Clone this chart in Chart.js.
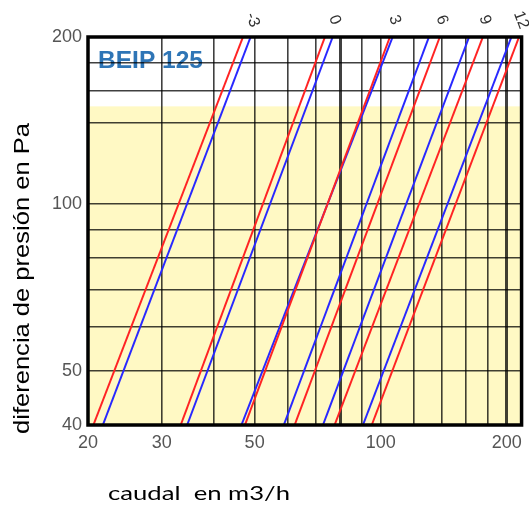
<!DOCTYPE html>
<html>
<head>
<meta charset="utf-8">
<title>BEIP 125</title>
<script src="https://cdn.jsdelivr.net/npm/chart.js@4.4.1/dist/chart.umd.min.js"></script>
<style>
  html, body { margin: 0; padding: 0; background: #fff; }
  canvas { display: block; }
</style>
</head>
<body>
<canvas id="chart" width="529" height="506"></canvas>
<script>
// Settings of the damper (labels along the top)
const settings = ['-3', '0', '3', '6', '9', '12'];

// Pressure range of each line, Pa
const pressure = [40, 200];

// Flow (m3/h) read at 40 Pa and at 200 Pa
const redFlow40 = [20.6, 33.3, 47.4, 62.3, 77.6, 95.2];
const redFlow200 = [46.9, 73.6, 105.2, 138.4, 175.4, 214];
const blueFlow40 = [21.7, 34.5, 46.5, 58.7, 72.8, 90.7];
const blueFlow200 = [48.9, 76.8, 106.8, 130.4, 162.6, 205.2];

// Grid and tick labels
const xGrid = [20, 30, 40, 50, 60, 70, 80, 90, 100, 120, 140, 160, 180, 200];
const xLabels = [20, 30, 50, 100, 200];
const xThick = [80, 200];
const yGrid = [40, 50, 60, 70, 80, 90, 100, 140, 160, 180, 200];
const yLabels = [40, 50, 100, 200];
const yellowTop = 150;

const RED = 'rgb(255,35,35)';
const BLUE = 'rgb(40,40,255)';

const datasets = [];
settings.forEach((s, i) => {
  datasets.push({
    label: s + ' red',
    data: [{ x: redFlow40[i], y: pressure[0] }, { x: redFlow200[i], y: pressure[1] }],
    borderColor: RED,
    borderWidth: 2,
    pointRadius: 0
  });
  datasets.push({
    label: s + ' blue',
    data: [{ x: blueFlow40[i], y: pressure[0] }, { x: blueFlow200[i], y: pressure[1] }],
    borderColor: BLUE,
    borderWidth: 2,
    pointRadius: 0
  });
});

// draw text stretched along its direction to a given length
function fitText(ctx, text, len) {
  const w = ctx.measureText(text).width;
  ctx.save();
  ctx.scale(len / w, 1);
  ctx.fillText(text, 0, 0);
  ctx.restore();
}

const backgroundPlugin = {
  id: 'background',
  beforeDraw(chart) {
    const { ctx, chartArea, scales } = chart;
    const yTop = scales.y.getPixelForValue(yellowTop);
    ctx.save();
    ctx.fillStyle = 'rgb(255,249,196)';
    ctx.fillRect(chartArea.left, yTop, chartArea.right - chartArea.left, chartArea.bottom - yTop);
    ctx.fillStyle = 'rgb(46,117,182)';
    ctx.font = 'bold 23px "Liberation Sans", Arial, sans-serif';
    ctx.textBaseline = 'alphabetic';
    ctx.translate(chartArea.left + 10, chartArea.top + 31);
    fitText(ctx, 'BEIP 125', 105);
    ctx.restore();
  }
};

const decorPlugin = {
  id: 'decor',
  afterDraw(chart) {
    const { ctx, chartArea, scales } = chart;
    ctx.save();
    // frame
    ctx.strokeStyle = '#000';
    ctx.lineWidth = 3.5;
    ctx.strokeRect(chartArea.left, chartArea.top, chartArea.right - chartArea.left, chartArea.bottom - chartArea.top);

    // setting labels on top
    ctx.fillStyle = '#333';
    ctx.font = '16px "Liberation Sans", Arial, sans-serif';
    ctx.textAlign = 'center';
    ctx.textBaseline = 'middle';
    settings.forEach((s, i) => {
      const x = scales.x.getPixelForValue(Math.max(redFlow200[i], blueFlow200[i])) + 2;
      ctx.save();
      ctx.translate(x, chartArea.top - 17);
      ctx.rotate(70 * Math.PI / 180);
      ctx.fillText(s, 0, 0);
      ctx.restore();
    });

    // axis titles
    ctx.fillStyle = '#000';
    ctx.textAlign = 'left';
    ctx.textBaseline = 'alphabetic';
    ctx.font = '22px "Liberation Sans", Arial, sans-serif';
    ctx.save();
    ctx.translate(29, 434);
    ctx.rotate(-Math.PI / 2);
    fitText(ctx, 'diferencia de presión en Pa', 311);
    ctx.restore();

    ctx.font = '19px Lato, "Open Sans", sans-serif';
    ctx.save();
    ctx.translate(108, 500);
    fitText(ctx, 'caudal  en m3/h', 182);
    ctx.restore();
    ctx.restore();
  }
};

new Chart(document.getElementById('chart'), {
  type: 'line',
  data: { datasets },
  options: {
    responsive: false,
    animation: false,
    layout: { padding: { top: 37, right: 7, left: 0, bottom: 0 } },
    plugins: {
      legend: { display: false },
      tooltip: { enabled: false }
    },
    scales: {
      x: {
        type: 'logarithmic',
        min: 20,
        max: 217,
        afterFit(scale) { scale.height = 81; },
        afterBuildTicks(scale) { scale.ticks = xGrid.map(v => ({ value: v })); },
        ticks: {
          autoSkip: false,
          maxRotation: 0,
          padding: 7,
          color: '#555',
          font: { family: '"Liberation Sans", Arial, sans-serif', size: 18 },
          callback: v => (xLabels.includes(v) ? String(v) : '')
        },
        grid: {
          drawTicks: false,
          color: 'rgba(0,0,0,0.75)',
          lineWidth: ctx => (ctx.tick && xThick.includes(ctx.tick.value) ? 3 : 1.6)
        },
        border: { display: false }
      },
      y: {
        type: 'logarithmic',
        min: 40,
        max: 200,
        afterFit(scale) { scale.width = 88; },
        afterBuildTicks(scale) { scale.ticks = yGrid.map(v => ({ value: v })); },
        ticks: {
          autoSkip: false,
          padding: 6,
          color: '#555',
          font: { family: '"Liberation Sans", Arial, sans-serif', size: 18 },
          callback: v => (yLabels.includes(v) ? String(v) : '')
        },
        grid: {
          drawTicks: false,
          color: 'rgba(0,0,0,0.75)',
          lineWidth: 1.6
        },
        border: { display: false }
      }
    }
  },
  plugins: [backgroundPlugin, decorPlugin]
});
</script>
</body>
</html>
